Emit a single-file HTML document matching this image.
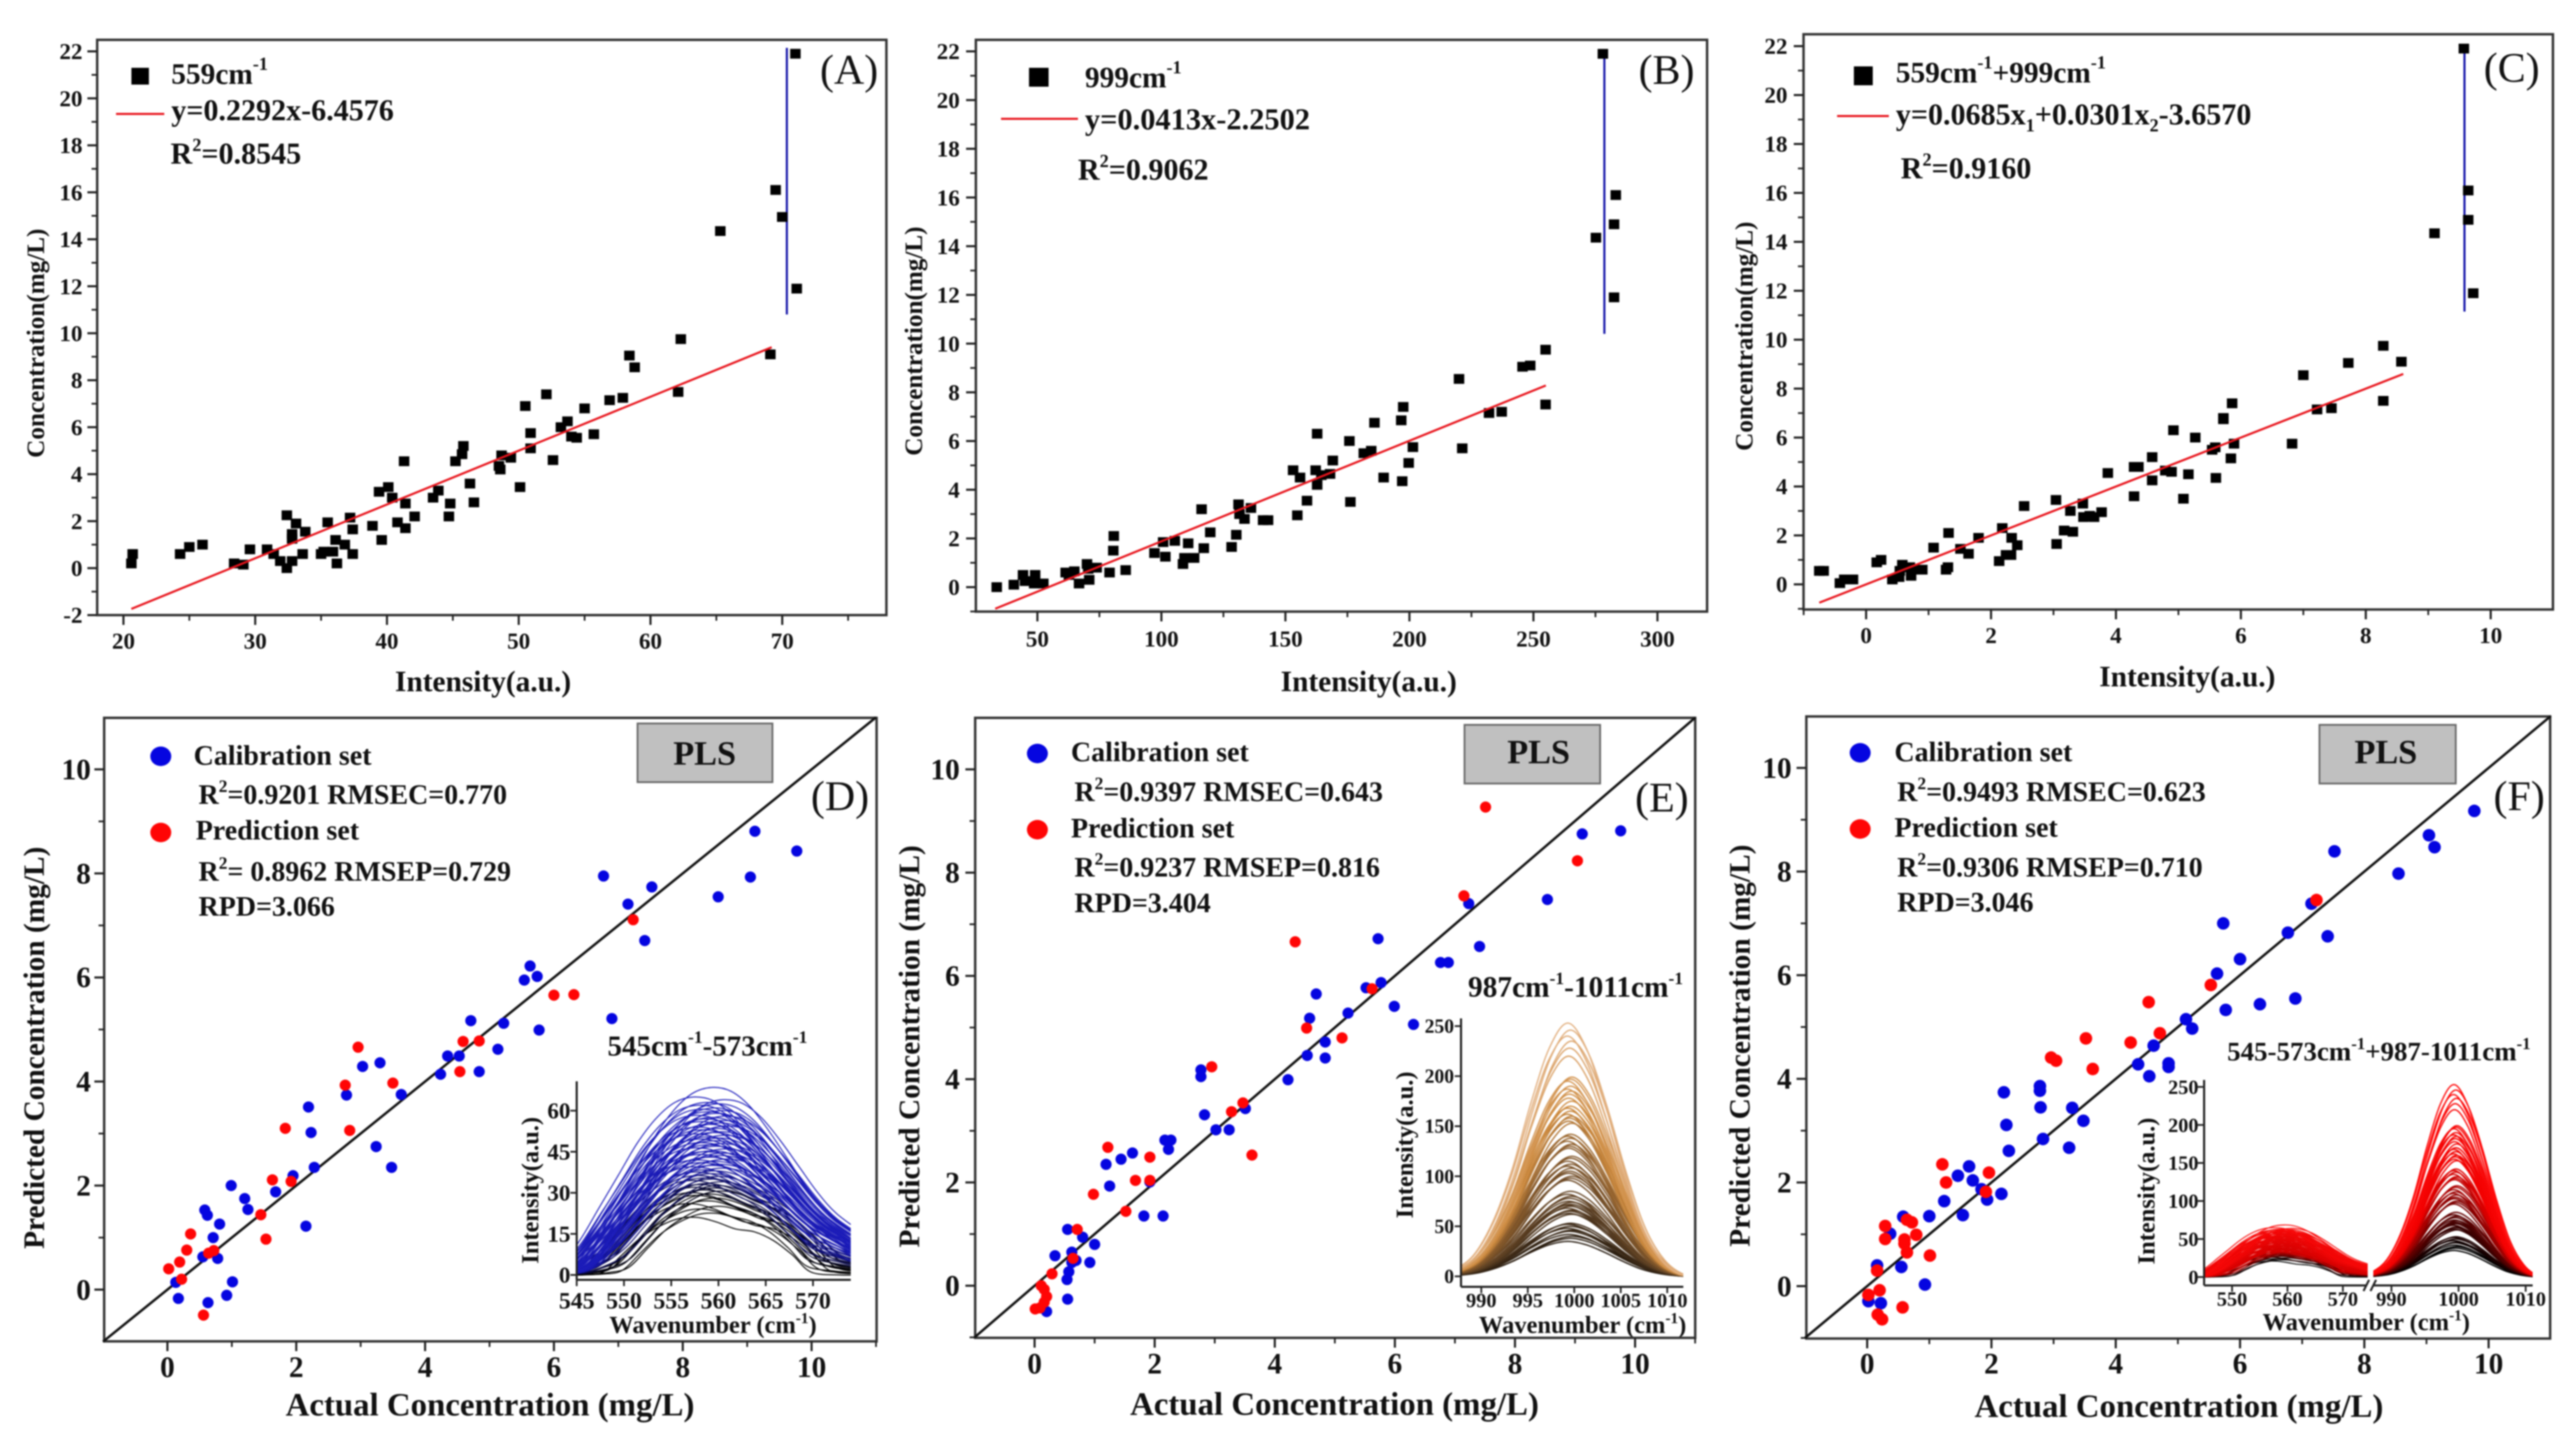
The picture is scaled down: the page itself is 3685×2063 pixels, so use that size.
<!DOCTYPE html>
<html lang="en">
<head>
<meta charset="utf-8">
<title>Concentration regression and PLS charts</title>
<style>
html,body{margin:0;padding:0;background:#fff;width:3685px;height:2063px;overflow:hidden}
svg{display:block;filter:blur(1.1px)}
text{font-family:"Liberation Serif",serif;font-weight:bold;fill:#111}
</style>
</head>
<body>
<svg id="figure" xmlns="http://www.w3.org/2000/svg" width="3685" height="2063" viewBox="0 0 3685 2063">
<defs>
<clipPath id="clipInsetD"><rect x="825" y="1547" width="392" height="284"/></clipPath>
<clipPath id="clipInsetE"><rect x="2090" y="1457" width="318" height="384"/></clipPath>
<clipPath id="clipInsetFLow"><rect x="3153" y="1545" width="234" height="294"/></clipPath>
<clipPath id="clipInsetFHigh"><rect x="3395" y="1545" width="228" height="294"/></clipPath>
</defs>
<rect x="0" y="0" width="3685" height="2063" fill="#fff"/>
<g id="panelA">
<text x="691" y="989" font-size="42" text-anchor="middle">Intensity(a.u.)</text>
<text transform="translate(63,491) rotate(-90)" font-size="36" text-anchor="middle">Concentration(mg/L)</text>
<rect x="188" y="97" width="25" height="24" fill="#000"/>
<text x="245" y="120" font-size="42">559cm<tspan dy="-20" font-size="26">-1</tspan></text>
<line x1="166" y1="163" x2="235" y2="163" stroke="#e8141c" stroke-width="3"/>
<text x="245" y="172" font-size="43">y=0.2292x-6.4576</text>
<text x="244" y="234" font-size="43">R<tspan dy="-18" font-size="26">2</tspan><tspan dy="18">=0.8545</tspan></text>
<text x="1173" y="120" font-size="60" font-weight="normal" style="font-weight:normal">(A)</text>
</g>
<g id="panelB">
<text x="1958" y="989" font-size="42" text-anchor="middle">Intensity(a.u.)</text>
<text transform="translate(1319,488) rotate(-90)" font-size="36" text-anchor="middle">Concentration(mg/L)</text>
<rect x="1472" y="97" width="28" height="27" fill="#000"/>
<text x="1552" y="125" font-size="42">999cm<tspan dy="-20" font-size="26">-1</tspan></text>
<line x1="1432" y1="170" x2="1542" y2="170" stroke="#e8141c" stroke-width="3"/>
<text x="1552" y="185" font-size="43.5">y=0.0413x-2.2502</text>
<text x="1542" y="257" font-size="43">R<tspan dy="-18" font-size="26">2</tspan><tspan dy="18">=0.9062</tspan></text>
<text x="2344" y="120" font-size="60" style="font-weight:normal">(B)</text>
</g>
<g id="panelC">
<text x="3129" y="982" font-size="42" text-anchor="middle">Intensity(a.u.)</text>
<text transform="translate(2507,481) rotate(-90)" font-size="36" text-anchor="middle">Concentration(mg/L)</text>
<rect x="2652" y="95" width="27" height="27" fill="#000"/>
<text x="2712" y="118" font-size="42">559cm<tspan dy="-20" font-size="26">-1</tspan><tspan dy="20">+999cm</tspan><tspan dy="-20" font-size="26">-1</tspan></text>
<line x1="2628" y1="166" x2="2702" y2="166" stroke="#e8141c" stroke-width="3"/>
<text x="2712" y="178" font-size="43">y=0.0685x<tspan dy="10" font-size="26">1</tspan><tspan dy="-10">+0.0301x</tspan><tspan dy="10" font-size="26">2</tspan><tspan dy="-10">-3.6570</tspan></text>
<text x="2719" y="255" font-size="43">R<tspan dy="-18" font-size="26">2</tspan><tspan dy="18">=0.9160</tspan></text>
<text x="3553" y="117" font-size="60" style="font-weight:normal">(C)</text>
</g>
<g id="panelD">
<text x="701" y="2025" font-size="47" text-anchor="middle">Actual Concentration (mg/L)</text>
<text transform="translate(63,1499) rotate(-90)" font-size="42" text-anchor="middle">Predicted Concentration (mg/L)</text>
<ellipse cx="230" cy="1082" rx="15" ry="14" fill="#0505e0"/>
<text x="277" y="1094" font-size="40">Calibration set</text>
<text x="284" y="1150" font-size="40">R<tspan dy="-17" font-size="25">2</tspan><tspan dy="17">=0.9201 RMSEC=0.770</tspan></text>
<ellipse cx="230" cy="1191" rx="15" ry="14" fill="#ff0505"/>
<text x="280" y="1201" font-size="40">Prediction set</text>
<text x="284" y="1260" font-size="40">R<tspan dy="-17" font-size="25">2</tspan><tspan dy="17">= 0.8962 RMSEP=0.729</tspan></text>
<text x="284" y="1310" font-size="40">RPD=3.066</text>
<rect x="912" y="1035" width="193" height="84" fill="#c0c0c0" stroke="#666" stroke-width="2.5"/>
<text x="1008" y="1094" font-size="49" text-anchor="middle">PLS</text>
<text x="1160" y="1159" font-size="60" style="font-weight:normal">(D)</text>
<text x="869" y="1510" font-size="41.5">545cm<tspan dy="-18" font-size="25">-1</tspan><tspan dy="18">-573cm</tspan><tspan dy="-18" font-size="25">-1</tspan></text>
<text x="1020" y="1907" font-size="35" text-anchor="middle">Wavenumber (cm<tspan dy="-14" font-size="22">-1</tspan><tspan dy="14">)</tspan></text>
<text transform="translate(770,1703) rotate(-90)" font-size="35" text-anchor="middle">Intensity(a.u.)</text>
</g>
<g id="panelE">
<text x="1909" y="2024" font-size="47" text-anchor="middle">Actual Concentration (mg/L)</text>
<text transform="translate(1315,1497) rotate(-90)" font-size="42" text-anchor="middle">Predicted Concentration (mg/L)</text>
<ellipse cx="1484" cy="1078" rx="15" ry="14" fill="#0505e0"/>
<text x="1532" y="1089" font-size="40">Calibration set</text>
<text x="1537" y="1146" font-size="40">R<tspan dy="-17" font-size="25">2</tspan><tspan dy="17">=0.9397 RMSEC=0.643</tspan></text>
<ellipse cx="1484" cy="1187" rx="15" ry="14" fill="#ff0505"/>
<text x="1532" y="1198" font-size="40">Prediction set</text>
<text x="1537" y="1254" font-size="40">R<tspan dy="-17" font-size="25">2</tspan><tspan dy="17">=0.9237 RMSEP=0.816</tspan></text>
<text x="1537" y="1305" font-size="40">RPD=3.404</text>
<rect x="2095" y="1037" width="194" height="84" fill="#c0c0c0" stroke="#666" stroke-width="2.5"/>
<text x="2201" y="1092" font-size="49" text-anchor="middle">PLS</text>
<text x="2339" y="1161" font-size="60" style="font-weight:normal">(E)</text>
<text x="2100" y="1426" font-size="42">987cm<tspan dy="-18" font-size="25">-1</tspan><tspan dy="18">-1011cm</tspan><tspan dy="-18" font-size="25">-1</tspan></text>
<text x="2264" y="1907" font-size="35" text-anchor="middle">Wavenumber (cm<tspan dy="-14" font-size="22">-1</tspan><tspan dy="14">)</tspan></text>
<text transform="translate(2021,1638) rotate(-90)" font-size="35" text-anchor="middle">Intensity(a.u.)</text>
</g>
<g id="panelF">
<text x="3117" y="2027" font-size="47" text-anchor="middle">Actual Concentration (mg/L)</text>
<text transform="translate(2503,1496) rotate(-90)" font-size="42" text-anchor="middle">Predicted Concentration (mg/L)</text>
<ellipse cx="2661" cy="1077" rx="15" ry="14" fill="#0505e0"/>
<text x="2710" y="1089" font-size="40">Calibration set</text>
<text x="2714" y="1146" font-size="40">R<tspan dy="-17" font-size="25">2</tspan><tspan dy="17">=0.9493 RMSEC=0.623</tspan></text>
<ellipse cx="2661" cy="1186" rx="15" ry="14" fill="#ff0505"/>
<text x="2710" y="1197" font-size="40">Prediction set</text>
<text x="2714" y="1254" font-size="40">R<tspan dy="-17" font-size="25">2</tspan><tspan dy="17">=0.9306 RMSEP=0.710</tspan></text>
<text x="2714" y="1304" font-size="40">RPD=3.046</text>
<rect x="3318" y="1037" width="195" height="84" fill="#c0c0c0" stroke="#666" stroke-width="2.5"/>
<text x="3413" y="1092" font-size="49" text-anchor="middle">PLS</text>
<text x="3567" y="1159" font-size="60" style="font-weight:normal">(F)</text>
<text x="3186" y="1517" font-size="38.5">545-573cm<tspan dy="-16" font-size="24">-1</tspan><tspan dy="16">+987-1011cm</tspan><tspan dy="-16" font-size="24">-1</tspan></text>
<text x="3385" y="1903" font-size="35" text-anchor="middle">Wavenumber (cm<tspan dy="-14" font-size="22">-1</tspan><tspan dy="14">)</tspan></text>
<text transform="translate(3082,1704) rotate(-90)" font-size="35" text-anchor="middle">Intensity(a.u.)</text>
</g>
</svg>
<script>
/* ---------- Panel A-C: intensity vs concentration ---------- */
const concentrationTicks = [-2,0,2,4,6,8,10,12,14,16,18,20,22];
const concentrationTicksNoMinus = [0,2,4,6,8,10,12,14,16,18,20,22];
const intensityTicksA = [20,30,40,50,60,70];
const intensityTicksB = [50,100,150,200,250,300];
const intensityTicksC = [0,2,4,6,8,10];
const actualTicks = [0,2,4,6,8,10];
const spectrumTicks559 = [545,550,555,560,565,570];
const spectrumTicks999 = [990,995,1000,1005,1010];
const intensityInsetTicksD = [0,15,30,45,60];
const intensityInsetTicksE = [0,50,100,150,200,250];
const spectrumTicksF559 = [550,560,570];
const spectrumTicksF999 = [990,1000,1010];

const intensityA = [20.6,20.7,24.3,25.0,26.0,28.4,29.1,29.6,30.9,31.4,31.9,32.4,32.8,32.4,32.8,32.8,33.1,33.6,33.8,35.0,35.2,35.5,35.9,36.1,36.2,36.8,37.2,37.4,37.4,38.9,39.6,39.4,40.1,40.4,40.8,41.4,41.4,41.3,42.1,43.5,43.9,44.7,44.8,45.2,45.7,45.8,46.3,46.6,48.5,48.6,48.7,49.4,50.1,50.5,50.9,50.9,52.1,52.6,53.2,53.7,54.0,54.4,55.0,55.7,56.9,57.9,58.4,58.8,62.1,62.3,65.3,69.1,69.5,70.0,71.0,71.1];
const concentrationA = [0.2,0.6,0.6,0.9,1.0,0.2,0.15,0.8,0.8,0.6,0.3,0.0,0.3,2.25,1.45,1.25,1.9,0.6,1.55,0.6,0.7,1.95,0.7,1.2,0.2,1.0,2.15,0.6,1.65,1.8,1.2,3.25,3.45,3.0,1.95,2.75,1.7,4.55,2.2,3.0,3.3,2.2,2.75,4.55,4.85,5.2,3.6,2.8,4.35,4.2,4.8,4.7,3.45,6.9,5.75,5.1,7.4,4.6,6.0,6.25,5.6,5.55,6.8,5.7,7.15,7.25,9.05,8.55,7.5,9.75,14.35,9.1,16.1,14.95,21.9,11.9];
const fitSlopeA = 0.2292;
const fitInterceptA = -6.4576;
const fitRangeA = [20.6,69.2];
const markerLineA = [70.35,10.8,22.15];

const intensityB = [33.6,40.5,44.2,45,49.1,48.7,52.4,61.4,64.9,62.7,66.8,70,70.9,70.5,73.9,79.1,80.8,80.6,85.6,97.2,100.7,101.6,105.4,108.7,109.3,110.8,113.2,116.2,117.1,119.7,128.3,130.2,131.1,131.5,133.5,136.1,141,143,153.1,154.8,155.9,158.7,162.2,162.8,162.8,164.5,168,169.1,175.8,176.2,181.6,184.6,185.9,189.6,196.7,197.5,197.1,199.7,201.4,220,221.3,232.1,237.2,245.6,248.7,254.9,254.9,275.2,278,282.5,282.5,283.2];
const concentrationB = [0,0.1,0.5,0.25,0.5,0.15,0.15,0.6,0.65,0.5,0.15,0.95,0.3,0.75,0.8,0.6,2.1,1.5,0.7,1.4,1.85,1.25,1.9,0.95,1.2,1.8,1.2,3.2,1.6,2.25,1.65,2.15,3.4,3.0,2.8,3.25,2.75,2.75,4.8,2.95,4.5,3.55,4.8,4.2,6.3,4.6,4.65,5.2,6.0,3.5,5.5,5.6,6.75,4.5,6.85,7.4,4.35,5.1,5.75,8.55,5.7,7.15,7.2,9.05,9.1,7.5,9.75,14.35,21.9,11.9,14.9,16.1];
const fitSlopeB = 0.0413;
const fitInterceptB = -2.2502;
const fitRangeB = [33,255];
const markerLineB = [278.6,10.4,22.07];

const intensityC = [-0.75,-0.68,-0.42,-0.35,-0.21,0.17,0.24,0.42,0.53,0.58,0.54,0.72,0.7,0.78,0.9,1.08,1.28,1.31,1.32,1.51,1.64,1.8,2.13,2.18,2.24,2.32,2.33,2.42,2.53,3.04,3.05,3.17,3.27,3.31,3.47,3.48,3.58,3.65,3.77,3.87,4.29,4.29,4.36,4.58,4.58,4.79,4.89,4.92,5.08,5.16,5.27,5.54,5.59,5.6,5.72,5.72,5.84,5.86,5.89,6.82,7.0,7.22,7.45,7.72,8.28,8.28,8.57,9.1,9.57,9.64,9.64,9.72];
const concentrationC = [0.55,0.55,0.05,0.2,0.2,0.9,1.0,0.2,0.3,0.8,0.55,0.35,0.7,0.6,0.6,1.5,0.6,0.7,2.1,1.45,1.25,1.9,0.95,2.3,1.2,1.2,1.9,1.6,3.2,3.45,1.65,2.2,3.0,2.15,3.3,2.75,2.8,2.75,2.95,4.55,3.6,4.8,4.8,4.25,5.2,4.65,4.6,6.3,3.5,4.5,6.0,5.5,5.6,4.35,6.8,6.75,5.15,7.4,5.75,5.75,8.55,7.15,7.2,9.05,7.5,9.75,9.1,14.35,21.9,16.1,14.9,11.9];
const fitSlopeC = 1;
const fitInterceptC = 0;
const fitRangeC = [-0.75,8.6];
const markerLineC = [9.58,11.15,22.03];

/* ---------- Panel D-F: actual vs predicted ---------- */
const calActualD = [0.17,0.13,0.55,0.58,0.62,0.63,0.71,0.78,0.81,0.92,0.99,1.01,1.2,1.25,1.68,1.95,2.15,2.19,2.23,2.28,2.78,3.03,3.24,3.3,3.48,3.63,4.24,4.35,4.53,4.71,4.84,5.13,5.22,5.54,5.63,5.74,5.77,6.77,6.9,7.15,7.41,7.52,8.55,9.05,9.12,9.77];
const calPredD = [-0.17,0.14,0.63,1.53,1.43,-0.25,1.0,0.6,1.26,-0.11,2.0,0.15,1.75,1.54,1.88,2.19,1.22,3.51,3.02,2.35,3.74,4.29,2.75,4.36,2.35,3.75,4.14,4.49,4.49,5.17,4.19,4.62,5.12,5.95,6.22,6.02,4.99,7.95,5.21,7.41,6.71,7.74,7.55,7.93,8.81,8.43];
const preActualD = [0.02,0.19,0.22,0.3,0.36,0.56,0.64,0.72,1.45,1.53,1.63,1.83,1.92,2.76,2.83,2.96,3.5,4.54,4.59,4.84,6.0,6.31,7.23];
const prePredD = [0.4,0.53,0.2,0.76,1.07,-0.49,0.7,0.75,1.44,0.97,2.11,3.1,2.08,3.93,3.06,4.66,3.97,4.19,4.77,4.78,5.66,5.67,7.11];

const calActualE = [0.2,0.55,0.54,0.57,0.55,0.62,0.62,0.69,0.34,0.8,0.92,1.0,1.19,1.25,1.44,1.63,1.82,1.92,2.14,2.17,2.23,2.27,2.77,2.77,2.83,3.02,3.24,3.51,4.22,4.54,4.58,4.69,4.84,4.84,5.22,5.52,5.72,5.77,5.99,6.31,6.76,6.89,7.23,7.41,8.54,9.12,9.76];
const calPredE = [-0.5,-0.26,0.12,0.27,1.09,0.45,0.65,0.49,0.58,0.94,0.45,0.8,2.35,1.93,2.45,2.57,1.35,2.01,1.35,2.82,2.64,2.82,4.18,4.05,3.31,3.02,3.02,3.43,3.99,4.46,5.18,5.65,4.72,4.41,5.28,5.77,6.72,5.87,5.41,5.06,6.26,6.26,7.4,6.57,7.48,8.75,8.81];
const preActualE = [0.01,0.11,0.16,0.2,0.16,0.09,0.29,0.64,0.71,0.98,1.22,1.52,1.68,1.92,1.92,2.95,3.28,3.47,3.62,4.34,4.53,5.12,5.62,7.15,7.51,9.04];
const prePredE = [-0.45,0,-0.07,-0.21,-0.32,-0.43,0.23,0.53,1.09,1.77,2.68,1.44,2.04,2.49,2.04,4.24,3.37,3.54,2.53,6.66,4.99,4.8,5.75,7.55,9.27,8.23];

const calActualF = [0.02,0.16,0.22,0.37,0.55,0.58,0.93,1.0,1.24,1.46,1.54,1.64,1.7,1.84,1.93,2.16,2.2,2.24,2.28,2.78,2.78,2.79,2.83,3.25,3.3,3.48,4.36,4.54,4.61,4.85,4.85,5.13,5.23,5.63,5.73,5.77,6.0,6.32,6.77,6.89,7.15,7.41,7.52,8.55,9.04,9.13,9.77];
const calPredF = [-0.29,0.4,-0.33,1.01,0.37,1.34,0.03,1.35,1.64,2.13,1.37,2.31,2.04,1.87,1.67,1.78,3.74,3.11,2.61,3.86,3.77,3.45,2.84,2.67,3.44,3.19,4.28,4.05,4.64,4.3,4.23,5.15,4.97,6.03,7.0,5.33,6.31,5.44,6.82,5.55,7.38,6.75,8.39,7.96,8.7,8.47,9.17];
const preActualF = [0.02,0.16,0.2,0.17,0.24,0.29,0.29,0.57,0.6,0.6,0.64,0.64,0.72,0.79,1.01,1.21,1.27,1.91,1.96,2.96,3.04,3.52,3.63,4.24,4.53,4.71,5.53,7.23];
const prePredF = [-0.17,0.3,-0.08,-0.55,-0.64,1.16,0.91,-0.41,0.9,0.82,1.28,0.65,1.23,0.99,0.59,2.35,2.0,1.82,2.19,4.41,4.35,4.78,4.19,4.7,5.48,4.88,5.81,7.45];

/* ---------- Inset spectra: read peak heights, band shapes and per-curve band shifts ---------- */
const wavenumbers559 = [541,543,545,547,549,551,553,555,557,559,561,563,565,567,569,571,574,576,578];
const bandWide559 = [0,0.01,0.06,0.2,0.38,0.56,0.74,0.88,0.97,1,0.98,0.9,0.77,0.62,0.47,0.35,0.23,0.15,0.1];
const bandNarrow559 = [0,0,0,0,0.05,0.35,0.65,0.85,0.98,1,0.92,0.8,0.75,0.6,0.35,0.05,0,0,0];
const peaks559 = [21,22.5,24,25,26,27,28,29,29.5,30,30.6,31,31.7,32,32.6,33,33.4,34,34.5,35,35.4,36,36.3,37,37.6,38,38.4,39,39.5,40,40.4,41,41.5,42,42.3,43,43.6,44,44.5,45,45.3,46,46.4,47,47.5,48,48.3,49,49.6,50,50.4,51,51.5,52,52.3,53,53.5,54,54.4,55,55.5,56,56.4,57,57.5,58,58.3,59,59.6,60,60.5,61,62,62.5,63,64,65,68.5];
const shifts559 = [-1.2,0.8,-0.4,1.5,-1.6,0.3,1.1,-0.9,0.5,-1.4,1.7,-0.2,0.9,-1.1,1.3,-0.6,0.1,1.6,-1.5,0.6,-0.3,1.2,-1.0,0.4];
const wavenumbers999 = [985.5,987.5,989.5,991.5,993.5,995.5,997.5,999.5,1001.5,1003.5,1005.5,1007.5,1009.5,1011.5,1013.5];
const band999 = [0,0.03,0.09,0.22,0.42,0.68,0.9,1,0.9,0.68,0.42,0.2,0.07,0.01,0];
const peaks999 = [35,38,40,42,45,46,48,50,52,53,62,63,65,66,68,70,71,72,74,75,78,80,82,85,96,98,100,103,105,108,110,112,115,118,120,128,130,132,135,138,140,142,153,155,158,160,162,165,168,170,175,178,182,185,187,190,195,197,199,220,228,235,240,246,253];
const shifts999 = [-0.2,0.1,0.25,-0.1,0,0.2,-0.25,0.1];

const NS = 'http://www.w3.org/2000/svg';
function svgEl(tag, attrs, parent) {
  const el = document.createElementNS(NS, tag);
  for (const k in attrs) el.setAttribute(k, attrs[k]);
  parent.appendChild(el);
  return el;
}
function linear(d0, d1, r0, r1) {
  return v => r0 + (v - d0) * (r1 - r0) / (d1 - d0);
}
function mixColor(stops, v) {
  if (v <= stops[0][0]) return 'rgb(' + stops[0][1].join(',') + ')';
  for (let i = 1; i < stops.length; i++) {
    if (v <= stops[i][0]) {
      const t = (v - stops[i-1][0]) / (stops[i][0] - stops[i-1][0]);
      const c = stops[i-1][1].map((a, j) => Math.round(a + (stops[i][1][j] - a) * t));
      return 'rgb(' + c.join(',') + ')';
    }
  }
  return 'rgb(' + stops[stops.length-1][1].join(',') + ')';
}
/* Catmull-Rom spline through the read points, so peaks keep their read height */
function smoothPath(pts) {
  let d = 'M' + pts[0][0].toFixed(1) + ' ' + pts[0][1].toFixed(1);
  for (let i = 0; i < pts.length - 1; i++) {
    const p0 = pts[Math.max(0, i - 1)];
    const p1 = pts[i];
    const p2 = pts[i + 1];
    const p3 = pts[Math.min(pts.length - 1, i + 2)];
    const c1x = p1[0] + (p2[0] - p0[0]) / 6;
    const c1y = p1[1] + (p2[1] - p0[1]) / 6;
    const c2x = p2[0] - (p3[0] - p1[0]) / 6;
    const c2y = p2[1] - (p3[1] - p1[1]) / 6;
    d += 'C' + c1x.toFixed(1) + ' ' + c1y.toFixed(1) + ' ' + c2x.toFixed(1) + ' ' + c2y.toFixed(1) + ' ' + p2[0].toFixed(1) + ' ' + p2[1].toFixed(1);
  }
  return d;
}

function drawTickX(g, sx, value, y0, len, sw) {
  const t = svgEl('line', {x1: sx(value), x2: sx(value), y1: y0, y2: y0 + len, stroke: '#222', 'stroke-width': sw}, g);
  
  
}
function drawTickY(g, sy, value, x0, len, sw) {
  const t = svgEl('line', {x1: x0 - len, x2: x0, y1: sy(value), y2: sy(value), stroke: '#222', 'stroke-width': sw}, g);
  
  
}
function labelX(g, sx, value, y, size) {
  const t = svgEl('text', {x: sx(value), y: y, 'font-size': size, 'text-anchor': 'middle'}, g);
  
  
  t.textContent = value;
}
function labelY(g, sy, value, x, size) {
  const t = svgEl('text', {x: x, y: sy(value) + size * 0.34, 'font-size': size, 'text-anchor': 'end'}, g);
  
  
  t.textContent = value;
}

function drawFrameAxes(g, f, sx, sy, o) {
  const frame = svgEl('rect', {x: f.l, y: f.t, width: f.r - f.l, height: f.b - f.t, fill: 'none', stroke: '#333', 'stroke-width': 3.5}, g);
  
  
  o.xTicks.forEach((v, i) => {
    drawTickX(g, sx, v, f.b, o.major, 3);
    labelX(g, sx, v, o.xLabelY, o.fontSize);
    const m = v + o.xStep / 2;
    if (sx(m) <= f.r) drawTickX(g, sx, m, f.b, o.minor, 2.5);
    const p = v - o.xStep / 2;
    if (i === 0 && sx(p) >= f.l) drawTickX(g, sx, p, f.b, o.minor, 2.5);
  });
  o.yTicks.forEach((v, i) => {
    drawTickY(g, sy, v, f.l, o.major, 3);
    labelY(g, sy, v, o.yLabelX, o.fontSize);
    const m = v + o.yStep / 2;
    if (sy(m) >= f.t) drawTickY(g, sy, m, f.l, o.minor, 2.5);
    const p = v - o.yStep / 2;
    if (i === 0 && sy(p) <= f.b) drawTickY(g, sy, p, f.l, o.minor, 2.5);
  });
}

function drawRegression(id, f, sx, sy, xs, ys, slope, intercept, range, marker, o) {
  const g = document.getElementById(id);
  drawFrameAxes(g, f, sx, sy, o);
  const vl = svgEl('line', {x1: sx(marker[0]), x2: sx(marker[0]), y1: sy(marker[1]), y2: sy(marker[2]), stroke: '#1414a8', 'stroke-width': 3}, g);
  
  
  xs.forEach((x, i) => {
    const p = svgEl('rect', {x: sx(x) - 7.5, y: sy(ys[i]) - 7, width: 15, height: 14, fill: '#000'}, g);
    
    
  });
  const fit = svgEl('line', {x1: sx(range[0]), y1: sy(slope * range[0] + intercept), x2: sx(range[1]), y2: sy(slope * range[1] + intercept), stroke: '#e8141c', 'stroke-width': 3}, g);
  
  
}

function drawPls(id, f, sx, sy, calX, calY, preX, preY, o) {
  const g = document.getElementById(id);
  drawFrameAxes(g, f, sx, sy, o);
  const diag = svgEl('line', {x1: sx(-1), y1: sy(-1), x2: sx(11), y2: sy(11), stroke: '#111', 'stroke-width': 3.5}, g);
  
  
  calX.forEach((x, i) => {
    const c = svgEl('circle', {cx: sx(x), cy: sy(calY[i]), r: o.r, fill: '#0505e0'}, g);
    
    
  });
  preX.forEach((x, i) => {
    const c = svgEl('circle', {cx: sx(x), cy: sy(preY[i]), r: o.r, fill: '#ff0505'}, g);
    
    
  });
}

function drawSpectra(g, clipId, wn, bandHigh, bandLow, peaks, shifts, sx, sy, stops, sw) {
  const holder = svgEl('g', {'clip-path': 'url(#' + clipId + ')'}, g);
  
  
  const pMin = Math.min.apply(null, peaks);
  const pMax = Math.max.apply(null, peaks);
  peaks.forEach((pk, n) => {
    const t = (pk - pMin) / (pMax - pMin);
    const shift = shifts[n % shifts.length];
    const pts = wn.map((w, i) => {
      const shape = bandLow[i] + (bandHigh[i] - bandLow[i]) * Math.min(1, t * 2.2);
      return [sx(w + shift), sy(pk * shape)];
    });
    const c = svgEl('path', {d: smoothPath(pts), fill: 'none', stroke: mixColor(stops, pk), 'stroke-width': sw}, holder);
    
    
  });
}

function insetAxisLine(g, x1, y1, x2, y2) {
  const a = svgEl('line', {x1: x1, y1: y1, x2: x2, y2: y2, stroke: '#222', 'stroke-width': 3}, g);
  
  
}

const blueStops = [[29,[0,0,0]],[40,[24,24,176]],[70,[30,30,190]]];
const brownStops = [[35,[38,26,14]],[80,[96,66,36]],[130,[138,92,44]],[170,[205,138,62]],[253,[226,176,128]]];
const redLowStops = [[24,[0,0,0]],[34,[210,0,0]],[70,[255,10,10]]];
const redHighStops = [[40,[0,0,0]],[100,[130,0,0]],[150,[240,0,0]],[253,[255,10,10]]];

/* Panel A */
drawRegression('panelA', {l:139,r:1268,t:57,b:880}, linear(20,70,176.6,1119), linear(-2,22,880,73.5),
  intensityA, concentrationA, fitSlopeA, fitInterceptA, fitRangeA, markerLineA,
  {xTicks:intensityTicksA, yTicks:concentrationTicks, xStep:10, yStep:2, major:14, minor:8, xLabelY:928, yLabelX:118, fontSize:33});
/* Panel B */
drawRegression('panelB', {l:1396,r:2442,t:57,b:875}, linear(50,300,1484,2371), linear(0,22,840,73.5),
  intensityB, concentrationB, fitSlopeB, fitInterceptB, fitRangeB, markerLineB,
  {xTicks:intensityTicksB, yTicks:concentrationTicksNoMinus, xStep:50, yStep:2, major:14, minor:8, xLabelY:925, yLabelX:1373, fontSize:33});
/* Panel C */
drawRegression('panelC', {l:2580,r:3652,t:49,b:872}, linear(0,10,2669.5,3563), linear(0,22,836,66),
  intensityC, concentrationC, fitSlopeC, fitInterceptC, fitRangeC, markerLineC,
  {xTicks:intensityTicksC, yTicks:concentrationTicksNoMinus, xStep:2, yStep:2, major:14, minor:8, xLabelY:920, yLabelX:2557, fontSize:33});

/* Panel D */
drawPls('panelD', {l:149,r:1254,t:1027,b:1919}, linear(0,10,239.5,1161), linear(0,10,1845,1100.7),
  calActualD, calPredD, preActualD, prePredD,
  {xTicks:actualTicks, yTicks:actualTicks, xStep:2, yStep:2, major:14, minor:8, xLabelY:1970, yLabelX:130, fontSize:42, r:8});
/* Panel E */
drawPls('panelE', {l:1395,r:2425,t:1027,b:1914}, linear(0,10,1480,2339), linear(0,10,1839.4,1100.7),
  calActualE, calPredE, preActualE, prePredE,
  {xTicks:actualTicks, yTicks:actualTicks, xStep:2, yStep:2, major:14, minor:8, xLabelY:1965, yLabelX:1373, fontSize:42, r:8});
/* Panel F */
drawPls('panelF', {l:2584,r:3648,t:1025,b:1915}, linear(0,10,2671,3560), linear(0,10,1840,1098.6),
  calActualF, calPredF, preActualF, prePredF,
  {xTicks:actualTicks, yTicks:actualTicks, xStep:2, yStep:2, major:14, minor:8, xLabelY:1965, yLabelX:2563, fontSize:42, r:9});

/* Inset D */
(function () {
  const g = document.getElementById('panelD');
  const sx = linear(545,570,825,1163);
  const sy = linear(0,60,1824,1589);
  drawSpectra(g, 'clipInsetD', wavenumbers559, bandWide559, bandNarrow559, peaks559, shifts559, sx, sy, blueStops, 1.5);
  insetAxisLine(g, 825, 1547, 825, 1831);
  insetAxisLine(g, 825, 1831, 1217, 1831);
  spectrumTicks559.forEach(v => {
    drawTickX(g, sx, v, 1831, 9, 2.5);
    labelX(g, sx, v, 1872, 34);
  });
  intensityInsetTicksD.forEach(v => {
    drawTickY(g, sy, v, 825, 9, 2.5);
    labelY(g, sy, v, 816, 33);
  });
})();
/* Inset E */
(function () {
  const g = document.getElementById('panelE');
  const sx = linear(990,1010,2119,2385);
  const sy = linear(0,250,1826,1468);
  drawSpectra(g, 'clipInsetE', wavenumbers999, band999, band999, peaks999, shifts999, sx, sy, brownStops, 1.9);
  insetAxisLine(g, 2090, 1457, 2090, 1841);
  insetAxisLine(g, 2090, 1841, 2408, 1841);
  spectrumTicks999.forEach(v => {
    drawTickX(g, sx, v, 1841, 9, 2.5);
    labelX(g, sx, v, 1870, 29);
  });
  intensityInsetTicksE.forEach(v => {
    drawTickY(g, sy, v, 2090, 9, 2.5);
    labelY(g, sy, v, 2080, 28);
  });
})();
/* Inset F */
(function () {
  const g = document.getElementById('panelF');
  const sxLow = linear(550,570,3193,3351.5);
  const sxHigh = linear(990,1010,3421,3613);
  const sy = linear(0,250,1827,1555);
  drawSpectra(g, 'clipInsetFLow', wavenumbers559, bandWide559, bandNarrow559, peaks559, shifts559, sxLow, sy, redLowStops, 1.4);
  drawSpectra(g, 'clipInsetFHigh', wavenumbers999, band999, band999, peaks999, shifts999, sxHigh, sy, redHighStops, 1.9);
  insetAxisLine(g, 3153, 1545, 3153, 1839);
  insetAxisLine(g, 3153, 1839, 3385, 1839);
  insetAxisLine(g, 3395, 1839, 3623, 1839);
  insetAxisLine(g, 3381, 1847, 3389, 1831);
  insetAxisLine(g, 3391, 1847, 3399, 1831);
  spectrumTicksF559.forEach(v => {
    drawTickX(g, sxLow, v, 1839, 9, 2.5);
    labelX(g, sxLow, v, 1868, 29);
  });
  spectrumTicksF999.forEach(v => {
    drawTickX(g, sxHigh, v, 1839, 9, 2.5);
    labelX(g, sxHigh, v, 1868, 29);
  });
  intensityInsetTicksE.forEach(v => {
    drawTickY(g, sy, v, 3153, 9, 2.5);
    labelY(g, sy, v, 3145, 29);
  });
})();
</script>
</body>
</html>
